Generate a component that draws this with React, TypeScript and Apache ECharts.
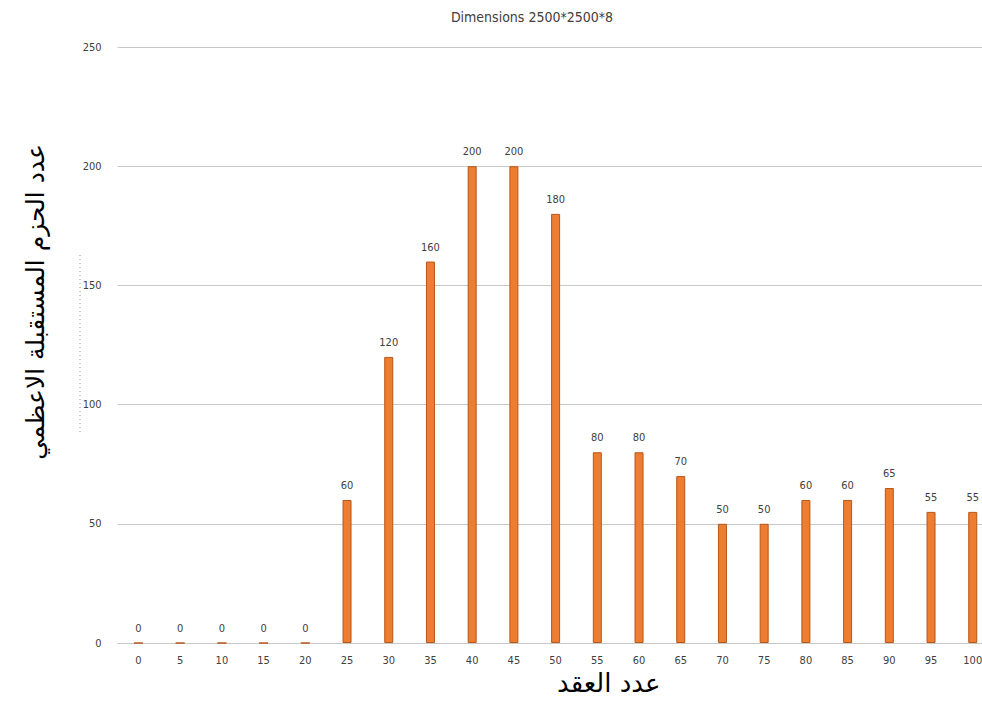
import React, { useEffect, useRef } from "react";
import * as echarts from "echarts";

// Node counts along the x axis
const nodeCounts = ["0", "5", "10", "15", "20", "25", "30", "35", "40", "45", "50", "55", "60", "65", "70", "75", "80", "85", "90", "95", "100"];
// Maximum received packets for each node count
const maxPackets = [0, 0, 0, 0, 0, 60, 120, 160, 200, 200, 180, 80, 80, 70, 50, 50, 60, 60, 65, 55, 55];

const titleText = "Dimensions 2500*2500*8";
const xAxisTitle = "عدد العقد";
const yAxisTitle = "عدد الحزم المستقبلة الاعظمي";

const narrowFont = "'Liberation Sans Narrow', 'DejaVu Sans Condensed', 'Liberation Sans', sans-serif";
const arabicFont = "'DejaVu Serif', 'DejaVu Sans', serif";

export default function App() {
  const ref = useRef<HTMLDivElement>(null);

  useEffect(() => {
    if (!ref.current) return;
    const chart = echarts.init(ref.current, null, { renderer: "svg" });
    chart.setOption({
      animation: false,
      backgroundColor: "#ffffff",
      title: {
        text: titleText,
        left: 527,
        top: 5,
        textAlign: "center",
        textStyle: { fontFamily: narrowFont, fontSize: 14, fontWeight: "normal", color: "#404040" },
      },
      // the plot runs slightly past the visible right edge
      grid: { left: 117.6, top: 47, width: 876, height: 596 },
      xAxis: {
        type: "category",
        data: nodeCounts,
        axisLine: { show: true, lineStyle: { color: "#c8c8c8", width: 1 } },
        axisTick: { show: false },
        axisLabel: { margin: 12, fontFamily: narrowFont, fontSize: 11, color: "#404040" },
      },
      yAxis: {
        type: "value",
        min: 0,
        max: 250,
        interval: 50,
        axisLine: { show: false },
        axisTick: { show: false },
        axisLabel: { margin: 16, fontFamily: narrowFont, fontSize: 11, color: "#404040" },
        splitLine: { lineStyle: { color: "#c8c8c8", width: 1 } },
      },
      series: [
        {
          type: "bar",
          data: maxPackets,
          barWidth: 9,
          itemStyle: { color: "#ED7D31", borderColor: "#B8561A", borderWidth: 1 },
          label: {
            show: true,
            position: "top",
            distance: 9,
            fontFamily: narrowFont,
            fontSize: 11,
            color: "#404040",
          },
        },
      ],
      graphic: [
        {
          type: "text",
          left: 557,
          top: 670,
          style: { text: xAxisTitle, font: `26px ${arabicFont}`, fill: "#000000" },
        },
        {
          type: "text",
          x: 35,
          y: 302,
          rotation: Math.PI / 2,
          style: {
            text: yAxisTitle,
            font: `25px ${arabicFont}`,
            fill: "#000000",
            align: "center",
            verticalAlign: "middle",
          },
        },
        {
          type: "line",
          shape: { x1: 80, y1: 255, x2: 80, y2: 435 },
          style: { stroke: "#8a8a8a", lineWidth: 1, lineDash: [1, 3] },
        },
      ],
    });
    return () => chart.dispose();
  }, []);

  return (
    <div
      style={{ position: "absolute", left: 0, top: 0, width: 982, height: 704, overflow: "hidden" }}
    >
      <div ref={ref} style={{ width: 1000, height: 704 }} />
    </div>
  );
}
